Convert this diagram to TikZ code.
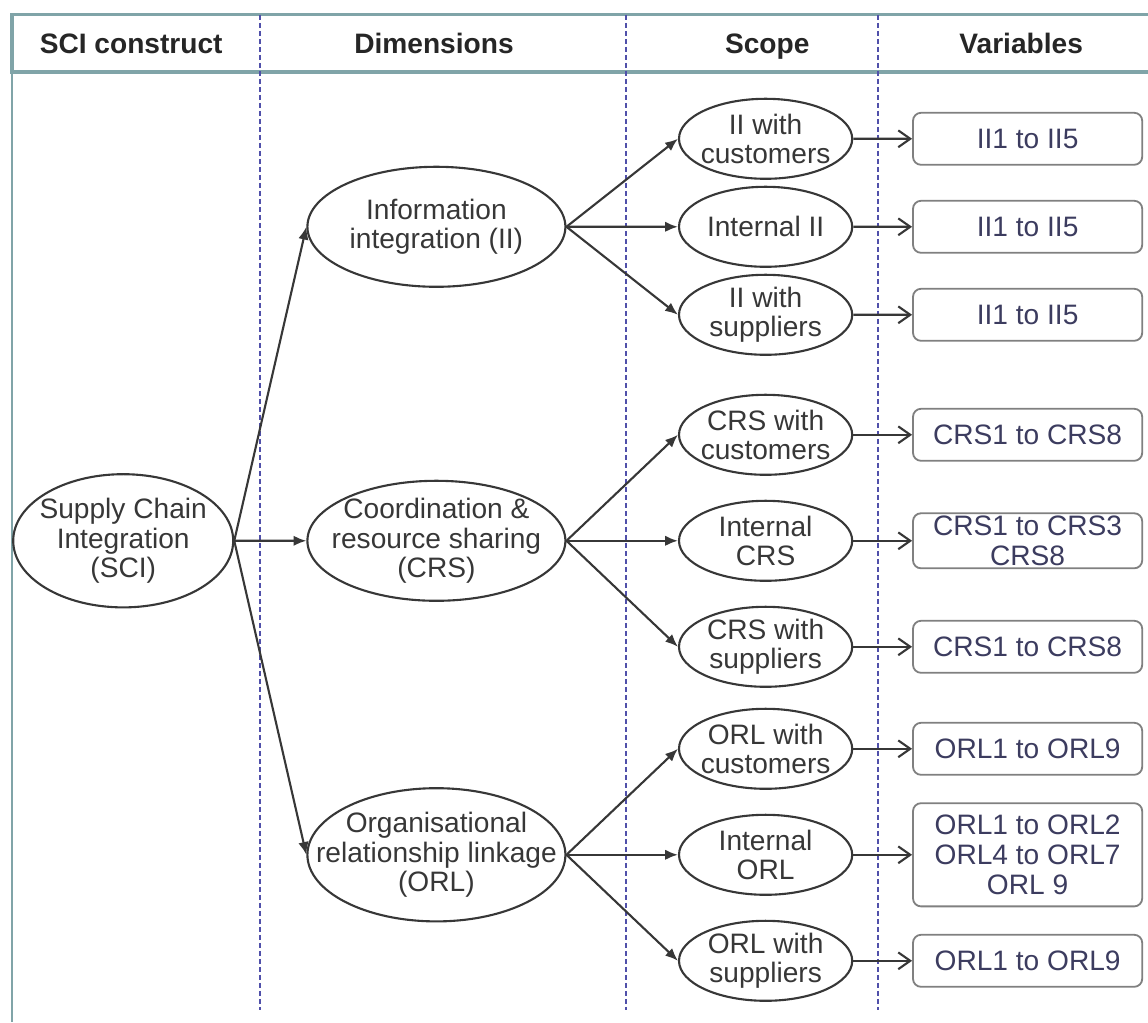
\documentclass[tikz,border=0pt]{standalone}
\usepackage{fontspec}
\setmainfont{Liberation Sans}
\usetikzlibrary{shapes.geometric,arrows.meta}
\definecolor{framecol}{RGB}{128,164,168}
\definecolor{sepcol}{RGB}{80,80,170}
\definecolor{inkcol}{RGB}{55,55,55}
\definecolor{varcol}{RGB}{60,60,95}

\begin{document}
\begin{tikzpicture}[
		grow'=right,
		level 1/.style={level distance=7.83cm, sibling distance=7.85cm},
		level 2/.style={level distance=8.23cm, sibling distance=2.65cm},
		level 3/.style={level distance=6.55cm,
			edge from parent/.style={draw=inkcol, line width=1.5pt, -{Straight Barb[length=3mm,width=4.2mm]}}},
		every node/.style={
			align=center,
			font=\fontsize{20}{21}\selectfont,
			text=inkcol
		},
		construct/.style={draw=inkcol, ellipse, line width=1.5pt, inner xsep=-1cm, inner ysep=-0.5cm, minimum width=5.5cm, minimum height=3.33cm},
		dimension/.style={construct, minimum width=6.45cm, minimum height=3cm},
		scopenode/.style={construct, minimum width=4.33cm, minimum height=2cm},
		variables/.style={draw=gray, rectangle, rounded corners=0.2cm, line width=1.3pt, text=varcol, minimum width=5.73cm, minimum height=1.3cm, inner sep=2pt},
		heading/.style={font=\bfseries\fontsize{20}{21}\selectfont, text=black!85, anchor=base},
		separator/.style={draw=sepcol, line width=1.6pt, dash pattern=on 0.12cm off 0.08cm},
		edge from parent/.style={draw=inkcol, line width=1.5pt, -{Latex[length=3.2mm,width=2.6mm]}},
		edge from parent path={(\tikzparentnode.east) -- (\tikzchildnode.west)}
		]
		\useasboundingbox (0,0) rectangle (28.7,25.55);
		
		\draw[framecol, line width=2.4pt] (0.3,23.75) rectangle (29,25.18);
		\draw[framecol, line width=2pt] (0.3,23.75) -- (0.3,0);
		\draw[separator] (6.5,25.18) -- (6.5,0.3);
		\draw[separator] (15.65,25.18) -- (15.65,0.3);
		\draw[separator] (21.95,25.18) -- (21.95,0.3);
		
		\node[heading] (hsci) at (3.28,24.2) {SCI construct};
		\node[heading] (hdim) at (10.85,24.2) {Dimensions};
		\node[heading] (hscope) at (19.18,24.2) {Scope};
		\node[heading] (hvar) at (25.53,24.2) {Variables};
		
		\node[construct] (sci) at (3.08,12.03) {Supply Chain\\Integration\\(SCI)}
		child[level 2/.append style={sibling distance=2.2cm}] { node[dimension] (ii) {Information\\integration (II)}
			child { node[scopenode] (iicust) {II with\\customers}
				child { node[variables] (iicustvar) {II1 to II5} }
			}
			child { node[scopenode] (iiint) {Internal II}
				child { node[variables] (iiintvar) {II1 to II5} }
			}
			child { node[scopenode] (iisupp) {II with\\suppliers}
				child { node[variables] (iisuppvar) {II1 to II5} }
			}
		}
		child { node[dimension] (crs) {Coordination \&\\resource sharing\\(CRS)}
			child { node[scopenode] (crscust) {CRS with\\customers}
				child { node[variables] (crscustvar) {CRS1 to CRS8} }
			}
			child { node[scopenode] (crsint) {Internal\\CRS}
				child { node[variables] (crsintvar) {CRS1 to CRS3\\CRS8} }
			}
			child { node[scopenode] (crssupp) {CRS with\\suppliers}
				child { node[variables] (crssuppvar) {CRS1 to CRS8} }
			}
		}
		child { node[dimension, minimum height=3.33cm] (orl) {Organisational\\relationship linkage\\(ORL)}
			child { node[scopenode] (orlcust) {ORL with\\customers}
				child { node[variables] (orlcustvar) {ORL1 to ORL9} }
			}
			child { node[scopenode] (orlint) {Internal\\ORL}
				child { node[variables, minimum height=2.58cm] (orlintvar) {ORL1 to ORL2\\ORL4 to ORL7\\ORL 9} }
			}
			child { node[scopenode] (orlsupp) {ORL with\\suppliers}
				child { node[variables] (orlsuppvar) {ORL1 to ORL9} }
			}
		};
	\end{tikzpicture}
\end{document}
